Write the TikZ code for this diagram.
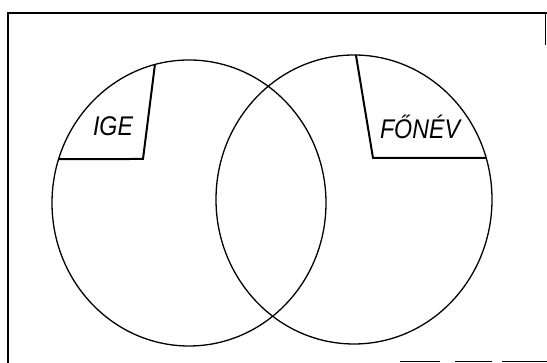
\documentclass[tikz,border=0pt]{standalone}
\usepackage{fontspec}
\setmainfont{Liberation Sans}
\usepackage{tikz}

\begin{document}
\begin{tikzpicture}[x=1pt,y=1pt]
	\useasboundingbox (0,0) rectangle (547,363);
	\tikzset{
		venn/.style={line width=1.3pt},
		part/.style={line width=2pt, line join=miter},
		frame/.style={line width=2.2pt},
		word/.style={font=\fontsize{27}{30}\selectfont\itshape, inner sep=0pt, xscale=0.86, transform shape}
	}
	% Frame (edges partly lost on the right and at the bottom)
	\draw[frame] (8,0) -- (8,350) -- (547,350);
	\draw[line width=1pt] (545.5,350) -- (545.5,318);
	\draw[line width=1.4pt] (400,1.5) -- (440,1.5) (455,1.5) -- (492,1.5) (502,1.5) -- (547,1.5);
	
	% Centres of the two circles
	\coordinate (lc) at (189,160);
	\coordinate (rc) at (354,163.5);
	
	% Circles
	\draw[venn] (lc) ellipse [x radius=137, y radius=143];
	\draw[venn] (rc) ellipse [x radius=138, y radius=144.5];
	
	% Verb part of the left circle
	\coordinate (igetop) at ([shift={(lc)}] 104.4:137 and 143);
	\coordinate (igecorner) at (143,204);
	\coordinate (igeleft) at ([shift={(lc)}] 162.1:137 and 143);
	\draw[part] (igetop) -- (igecorner) -- (igeleft);
	\node[word] (ige) at (113,237) {IGE};
	
	% Noun part of the right circle
	\coordinate (fntop) at ([shift={(rc)}] 89.2:138 and 144.5);
	\coordinate (fncorner) at (373,205);
	\coordinate (fnright) at ([shift={(rc)}] 16.7:138 and 144.5);
	\draw[part] (fntop) -- (fncorner) -- (fnright);
	\node[word] (fonev) at (420,236) {FŐNÉV};
\end{tikzpicture}
\end{document}
